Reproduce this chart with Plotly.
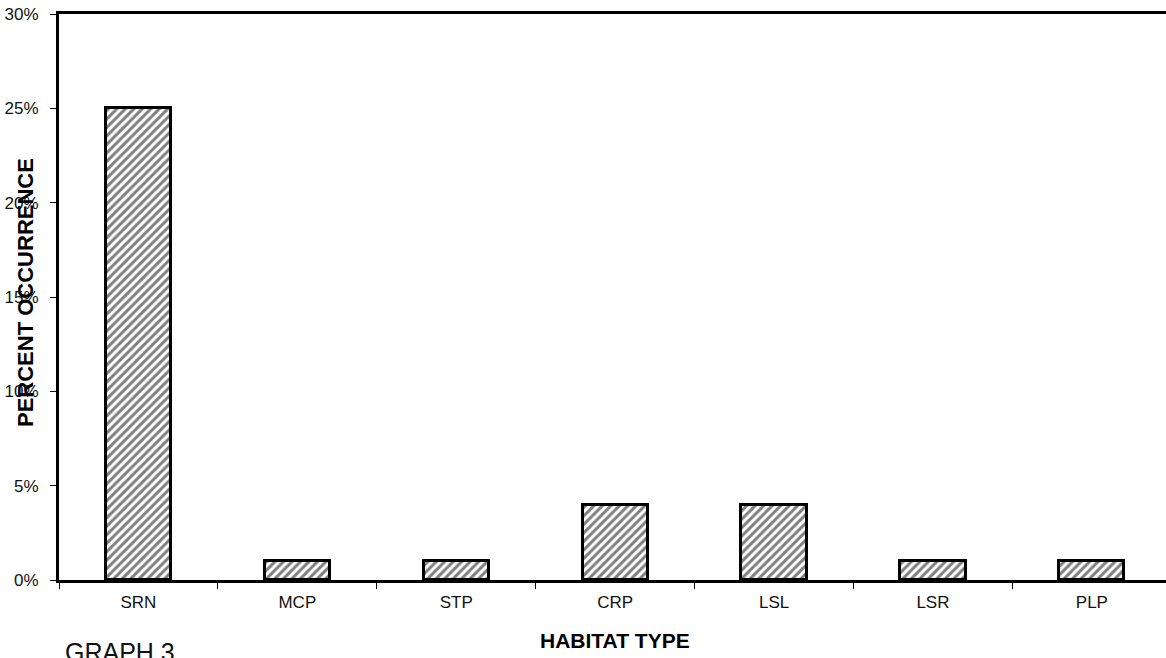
import plotly.graph_objects as go

# Habitat types and the share of occurrences recorded in each (percent)
habitats = ["SRN", "MCP", "STP", "CRP", "LSL", "LSR", "PLP"]
occurrence_pct = [25, 1, 1, 4, 4, 1, 1]
y_ticks = [0, 5, 10, 15, 20, 25, 30]
y_tick_labels = [f"{v}%" for v in y_ticks]

FONT = "Liberation Sans, Arial, sans-serif"

W, H = 1166, 658
M_L, M_R, M_T, M_B = 59, 0, 14, 78
plot_w = W - M_L - M_R
plot_h = H - M_T - M_B
band_px = 158.9  # width of one category band in pixels


def px_x(p):
    return (p - M_L) / plot_w


def px_y(p):
    return (H - M_B - p) / plot_h


fig = go.Figure(
    go.Bar(
        x=habitats,
        y=occurrence_pct,
        width=0.41,
        marker=dict(
            color="white",
            line=dict(color="black", width=3),
            pattern=dict(shape="/", fgcolor="black", bgcolor="white",
                         size=6, solidity=0.5),
        ),
        hoverinfo="x+y",
    )
)

fig.update_layout(
    width=W,
    height=H,
    margin=dict(l=M_L, r=M_R, t=M_T, b=M_B),
    paper_bgcolor="white",
    plot_bgcolor="white",
    showlegend=False,
    font=dict(family=FONT, color="#111111", size=18),
    bargap=0,
)

fig.update_xaxes(
    type="category",
    range=[-0.5, -0.5 + plot_w / band_px],
    showline=True,
    linecolor="black",
    linewidth=3,
    mirror=True,
    ticks="outside",
    tickson="boundaries",
    ticklen=6,
    tickwidth=1,
    tickcolor="black",
    showgrid=False,
    zeroline=False,
    tickfont=dict(size=17, family=FONT, color="#111111"),
    ticklabelstandoff=5,
)

fig.update_yaxes(
    range=[0, 30],
    tickvals=y_ticks,
    ticktext=y_tick_labels,
    showline=True,
    linecolor="black",
    linewidth=3,
    ticks="outside",
    ticklen=6,
    tickwidth=1,
    tickcolor="black",
    showgrid=False,
    zeroline=False,
    tickfont=dict(size=17, family=FONT, color="#111111"),
    ticklabelstandoff=8,
)

# Axis titles and caption
fig.add_annotation(
    text="<b>HABITAT TYPE</b>",
    xref="paper", yref="paper",
    x=px_x(M_L + 3.5 * band_px), y=px_y(640),
    xanchor="center", yanchor="middle",
    showarrow=False,
    font=dict(size=21, family=FONT, color="black"),
)
fig.add_annotation(
    text="<b>PERCENT OCCURRENCE</b>",
    xref="paper", yref="paper",
    x=px_x(25), y=px_y(293),
    xanchor="center", yanchor="middle",
    textangle=-90,
    showarrow=False,
    font=dict(size=22, family=FONT, color="black"),
)
fig.add_annotation(
    text="GRAPH 3",
    xref="paper", yref="paper",
    x=px_x(63), y=px_y(636),
    xanchor="left", yanchor="top",
    showarrow=False,
    font=dict(size=25, family=FONT, color="#111111"),
)

fig.write_html("out.html")
